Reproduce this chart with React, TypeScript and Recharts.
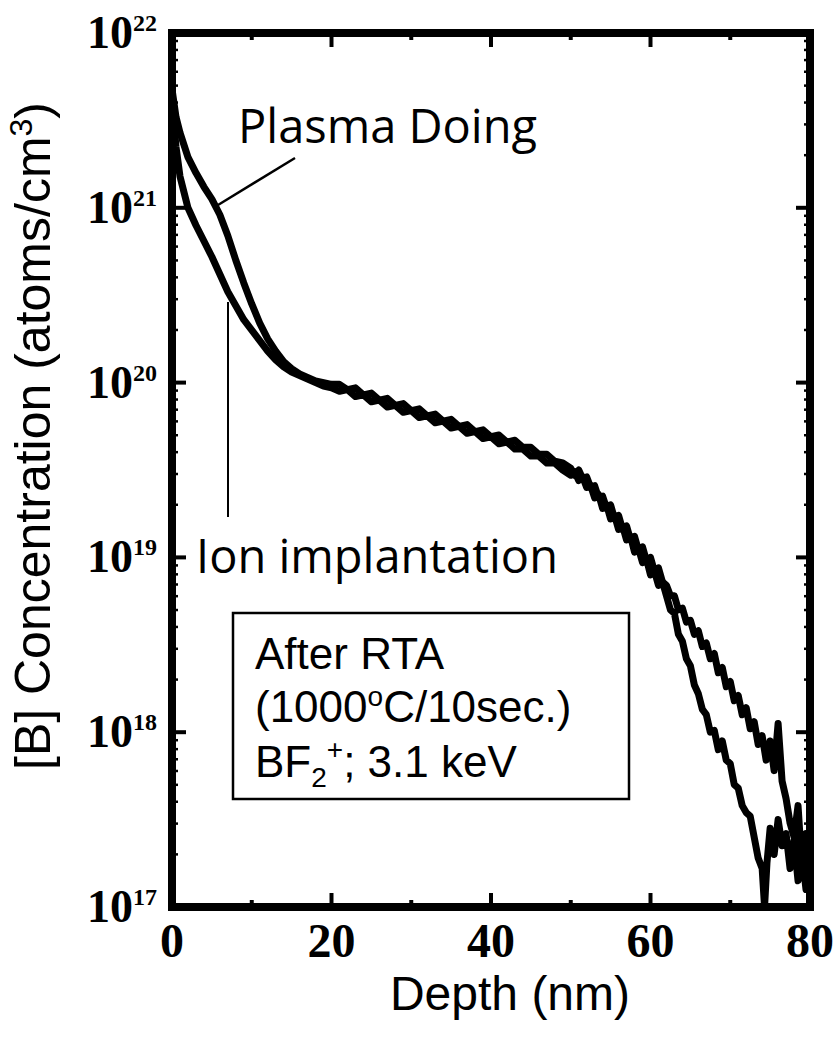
import React from 'react';
import { LineChart, Line, XAxis, YAxis, ReferenceArea } from 'recharts';

// Depth (nm) and log10 of [B] concentration (atoms/cm^3)
const plasmaDepth = [
  0, 0.5, 1, 2, 3, 4, 5, 6, 7, 8, 9, 10, 11, 12, 13, 14, 15, 16, 17, 18, 19, 20,
  21, 22, 23, 24, 25, 26, 27, 28, 29, 30, 31, 32, 33, 34, 35, 36, 37, 38, 39, 40,
  41, 42, 43, 44, 45, 46, 47, 48, 49,
  50, 50.5, 51, 51.5, 52, 52.5, 53, 53.5, 54, 54.5, 55, 55.5, 56, 56.5, 57, 57.5,
  58, 58.5, 59, 59.5, 60, 60.5, 61, 61.5,
  62, 62.5, 63, 63.5, 64, 64.5, 65, 65.5, 66, 66.5, 67, 67.5, 68, 68.5, 69, 69.5,
  70, 70.5, 71, 71.5, 72, 72.5, 73, 73.5, 74, 74.5, 75, 75.5, 76, 76.5, 77, 77.5,
  78, 78.5, 79, 79.5, 80,
];
const plasmaLog = [
  21.68, 21.52, 21.43, 21.29, 21.2, 21.12, 21.05, 20.96, 20.84, 20.7, 20.57, 20.45,
  20.34, 20.25, 20.18, 20.12, 20.08, 20.05, 20.03, 20.01, 20.0, 19.99,
  19.99, 19.96, 19.97, 19.93, 19.94, 19.9, 19.91, 19.87, 19.88, 19.84, 19.85, 19.81,
  19.82, 19.78, 19.79, 19.75, 19.76, 19.72, 19.73, 19.69, 19.7, 19.66, 19.67, 19.63,
  19.63, 19.59, 19.59, 19.55, 19.54,
  19.51, 19.47, 19.5, 19.45, 19.46, 19.4, 19.41, 19.34, 19.35, 19.28, 19.3, 19.22,
  19.24, 19.16, 19.18, 19.1, 19.12, 19.04, 19.06, 18.98, 19.0, 18.92, 18.94, 18.86,
  18.84, 18.78, 18.78, 18.7, 18.71, 18.63, 18.64, 18.56, 18.58, 18.49, 18.51, 18.42,
  18.45, 18.34, 18.37, 18.26, 18.29, 18.18, 18.21, 18.1, 18.14, 18.02, 18.06, 17.93,
  17.98, 17.84, 17.95, 17.78, 18.05, 17.72, 17.62, 17.48, 17.4, 17.58, 17.22, 17.42,
  17.08,
];

const ionDepth = [
  0, 0.5, 1, 2, 3, 4, 5, 6, 7, 8, 9, 10, 11, 12, 13, 14, 15, 16, 17, 18, 19, 20,
  21, 22, 23, 24, 25, 26, 27, 28, 29, 30, 31, 32, 33, 34, 35, 36, 37, 38, 39, 40,
  41, 42, 43, 44, 45, 46, 47, 48, 49,
  50, 50.5, 51, 51.5, 52, 52.5, 53, 53.5, 54, 54.5, 55, 55.5, 56, 56.5, 57, 57.5,
  58, 58.5, 59, 59.5, 60, 60.5, 61, 61.5,
  62, 62.5, 63, 63.5, 64, 64.5, 65, 65.5, 66, 66.5, 67, 67.5, 68, 68.5, 69, 69.5,
  70, 70.5, 71, 71.5, 72, 72.5, 73, 73.5,
  74, 74.3, 74.6, 75, 75.5, 76, 76.5, 77, 77.5, 78, 78.5, 79, 79.5, 80,
];
const ionLog = [
  21.6, 21.35, 21.18, 21.0, 20.9, 20.81, 20.72, 20.62, 20.52, 20.44, 20.36, 20.3,
  20.24, 20.18, 20.13, 20.09, 20.06, 20.04, 20.02, 20.0, 19.98, 19.97,
  19.95, 19.96, 19.92, 19.93, 19.89, 19.9, 19.86, 19.87, 19.83, 19.84, 19.8, 19.81,
  19.77, 19.78, 19.74, 19.75, 19.71, 19.72, 19.68, 19.69, 19.65, 19.66, 19.62, 19.62,
  19.58, 19.58, 19.54, 19.54, 19.5,
  19.47, 19.49, 19.44, 19.46, 19.4, 19.41, 19.34, 19.36, 19.28, 19.3, 19.22, 19.24,
  19.16, 19.18, 19.1, 19.12, 19.03, 19.05, 18.97, 18.99, 18.9, 18.92, 18.84, 18.86,
  18.78, 18.7, 18.68, 18.56, 18.52, 18.42, 18.38, 18.27, 18.22, 18.13, 18.1, 18.0,
  18.01, 17.9, 17.95, 17.84, 17.82, 17.7, 17.68, 17.58, 17.54, 17.52, 17.4, 17.28,
  17.22, 17.0, 17.25, 17.45, 17.3, 17.5, 17.35, 17.42, 17.22, 17.38, 17.15, 17.3, 17.1, 17.25,
];

const xTicks = [0, 10, 20, 30, 40, 50, 60, 70, 80];
const xLabelTicks = [0, 20, 40, 60, 80];
const yExponents = [17, 18, 19, 20, 21, 22];
const yMinorMantissas = [2, 3, 4, 5, 6, 7, 8, 9];

const plasmaData = plasmaDepth.map((d, i) => ({ d, v: Math.pow(10, plasmaLog[i]) }));
const ionData = ionDepth.map((d, i) => ({ d, v: Math.pow(10, ionLog[i]) }));

const yTicks: number[] = [];
yExponents.forEach((e) => {
  yTicks.push(Math.pow(10, e));
  if (e < 22) yMinorMantissas.forEach((m) => yTicks.push(m * Math.pow(10, e)));
});

const isMajorY = (v: number) => {
  const e = Math.log10(v);
  return Math.abs(e - Math.round(e)) < 1e-6;
};

const SERIF = "'Liberation Serif', 'DejaVu Serif', serif";
const SANS = "'Liberation Sans', Arial, sans-serif";
const HUMAN = "'Open Sans', 'DejaVu Sans', sans-serif";

const LeftTick = (props: any) => {
  const { x, y, payload } = props;
  const v = payload.value as number;
  const major = isMajorY(v);
  const e = Math.round(Math.log10(v));
  return (
    <g>
      {(e > 17 && e < 22) || !major ? (
        <line x1={x} x2={x + (major ? 14 : 6)} y1={y} y2={y} stroke="#000" strokeWidth={major ? 4 : 2.5} />
      ) : null}
      {major && (
        <text x={x - 15} y={y + 15} textAnchor="end" fontFamily={SERIF} fontWeight="bold" fontSize={46} fill="#000">
          10
          <tspan dy={-17} fontSize={24}>{e}</tspan>
        </text>
      )}
    </g>
  );
};

const RightTick = (props: any) => {
  const { x, y, payload } = props;
  const v = payload.value as number;
  const major = isMajorY(v);
  const e = Math.round(Math.log10(v));
  if (major && (e === 17 || e === 22)) return <g />;
  return <line x1={x} x2={x - (major ? 14 : 6)} y1={y} y2={y} stroke="#000" strokeWidth={major ? 4 : 2.5} />;
};

const BottomTick = (props: any) => {
  const { x, y, payload } = props;
  const v = payload.value as number;
  const major = xLabelTicks.includes(v);
  return (
    <g>
      {v > 0 && v < 80 && (
        <line x1={x} x2={x} y1={y} y2={y - (major ? 14 : 7)} stroke="#000" strokeWidth={4} />
      )}
      {major && (
        <text x={x} y={y + 50} textAnchor="middle" fontFamily={SERIF} fontWeight="bold" fontSize={48} fill="#000">
          {v}
        </text>
      )}
    </g>
  );
};

const TopTick = (props: any) => {
  const { x, y, payload } = props;
  const v = payload.value as number;
  const major = xLabelTicks.includes(v);
  if (v <= 0 || v >= 80) return <g />;
  return <line x1={x} x2={x} y1={y} y2={y + (major ? 14 : 7)} stroke="#000" strokeWidth={4} />;
};

export default function App() {
  return (
    <div style={{ position: 'absolute', left: 0, top: 0, width: 837, height: 1037, background: '#fff' }}>
      <LineChart width={837} height={1037} margin={{ top: 13, right: 7, bottom: 30, left: 72 }}>
        <XAxis
          xAxisId={0}
          dataKey="d"
          type="number"
          domain={[0, 80]}
          ticks={xTicks}
          interval={0}
          axisLine={false}
          tickLine={false}
          tickSize={0}
          tickMargin={0}
          height={100}
          tick={<BottomTick />}
          allowDataOverflow
        />
        <XAxis
          xAxisId="top"
          orientation="top"
          dataKey="d"
          type="number"
          domain={[0, 80]}
          ticks={xTicks}
          interval={0}
          axisLine={false}
          tickLine={false}
          tickSize={0}
          tickMargin={0}
          height={20}
          tick={<TopTick />}
          allowDataOverflow
        />
        <YAxis
          yAxisId={0}
          type="number"
          scale="log"
          domain={[1e17, 1e22]}
          ticks={yTicks}
          interval={0}
          axisLine={false}
          tickLine={false}
          tickSize={0}
          tickMargin={0}
          width={100}
          tick={<LeftTick />}
          allowDataOverflow
        />
        <YAxis
          yAxisId="right"
          orientation="right"
          type="number"
          scale="log"
          domain={[1e17, 1e22]}
          ticks={yTicks}
          interval={0}
          axisLine={false}
          tickLine={false}
          tickSize={0}
          tickMargin={0}
          width={20}
          tick={<RightTick />}
          allowDataOverflow
        />
        <Line
          data={ionData}
          dataKey="v"
          type="linear"
          stroke="#000"
          strokeWidth={7}
          strokeLinejoin="round"
          dot={false}
          isAnimationActive={false}
        />
        <Line
          data={plasmaData}
          dataKey="v"
          type="linear"
          stroke="#000"
          strokeWidth={7}
          strokeLinejoin="round"
          dot={false}
          isAnimationActive={false}
        />
        <ReferenceArea
          x1={0}
          x2={80}
          y1={1e17}
          y2={1e22}
          stroke="#000"
          strokeWidth={8}
          fill="none"
          fillOpacity={0}
          ifOverflow="visible"
        />
      </LineChart>
      <svg
        width={837}
        height={1037}
        style={{ position: 'absolute', left: 0, top: 0, pointerEvents: 'none' }}
      >
        <text x={238} y={143} fontFamily={HUMAN} fontSize={47} fill="#000">Plasma Doing</text>
        <line x1={295} y1={158} x2={218} y2={205} stroke="#000" strokeWidth={2.5} />
        <text x={196} y={573} fontFamily={HUMAN} fontSize={47} fill="#000">Ion implantation</text>
        <line x1={228} y1={302} x2={228} y2={517} stroke="#000" strokeWidth={2} />
        <rect x={233} y={613} width={396} height={186} fill="none" stroke="#000" strokeWidth={2.5} />
        <text x={255} y={669} fontFamily={SANS} fontSize={44} fill="#000">After RTA</text>
        <text x={255} y={722} fontFamily={SANS} fontSize={44} fill="#000">
          (1000<tspan dy={-16} fontSize={28}>o</tspan>
          <tspan dy={16}>C/10sec.)</tspan>
        </text>
        <text x={255} y={777} fontFamily={SANS} fontSize={44} fill="#000">
          BF<tspan dy={10} fontSize={28}>2</tspan>
          <tspan dy={-28} fontSize={28}>+</tspan>
          <tspan dy={18}>; 3.1 keV</tspan>
        </text>
        <text
          x={50}
          y={436}
          transform="rotate(-90 50 436)"
          textAnchor="middle"
          fontFamily={SANS}
          fontSize={50}
          fill="#000"
        >
          [B] Concentration (atoms/cm<tspan dy={-18} fontSize={32}>3</tspan>
          <tspan dy={18}>)</tspan>
        </text>
        <text x={510} y={1010} textAnchor="middle" fontFamily={SANS} fontSize={48} fill="#000">
          Depth (nm)
        </text>
      </svg>
    </div>
  );
}
